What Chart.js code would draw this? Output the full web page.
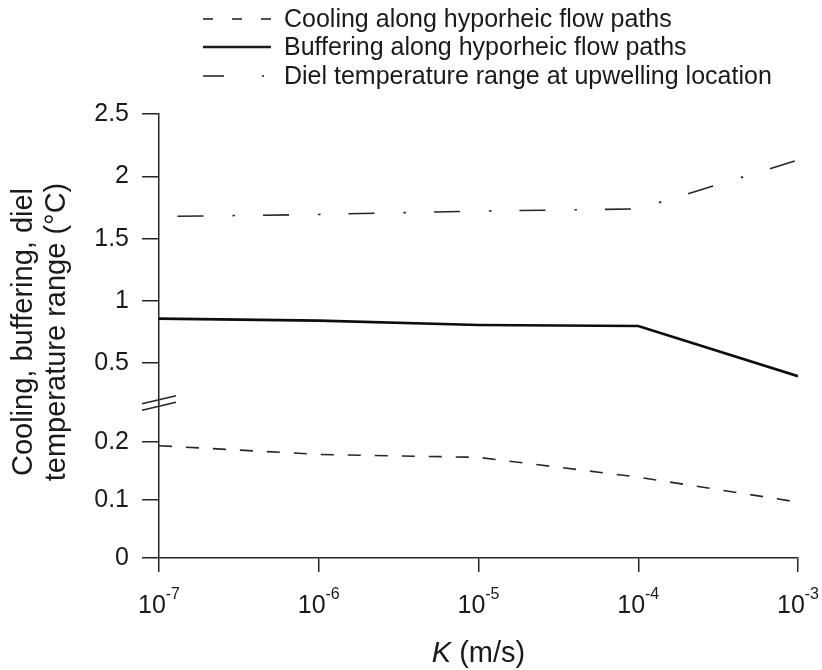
<!DOCTYPE html>
<html>
<head>
<meta charset="utf-8">
<script src="https://cdn.jsdelivr.net/npm/chart.js@4/dist/chart.umd.min.js"></script>
<style>
html,body{margin:0;padding:0;background:#ffffff;}
#wrap{width:822px;height:670px;}
</style>
</head>
<body>
<div id="wrap"><canvas id="c" width="822" height="670"></canvas></div>
<script>
// ---- data ----
const K = [1e-7, 1e-6, 1e-5, 1e-4, 1e-3];
const xTickExponents = ['-7', '-6', '-5', '-4', '-3'];
const cooling = [0.193, 0.178, 0.173, 0.139, 0.096];
const buffering = [0.858, 0.842, 0.807, 0.799, 0.396];
const diel = [1.677, 1.694, 1.721, 1.738, 2.13];
const lowerTicks = [0, 0.1, 0.2];
const upperTicks = [0.5, 1, 1.5, 2, 2.5];
const seriesLabels = [
  'Cooling along hyporheic flow paths',
  'Buffering along hyporheic flow paths',
  'Diel temperature range at upwelling location'
];
const yTitleLines = ['Cooling, buffering, diel', 'temperature range (\u00B0C)'];
const xTitleItalic = 'K';
const xTitleRest = ' (m/s)';

// ---- styling ----
const FONT = '"Liberation Sans", Arial, Helvetica, sans-serif';
const INK = '#1a1a1a';
const AXIS = '#262626';

const toPoints = arr => K.map((k, i) => ({x: k, y: arr[i]}));

const decor = {
  id: 'decor',
  afterDraw(chart) {
    const ctx = chart.ctx;
    const area = chart.chartArea;
    ctx.save();
    ctx.fillStyle = INK;
    ctx.strokeStyle = INK;

    // legend
    const lx0 = 203, lx1 = 271, tx = 284;
    const rows = [19, 47, 76];
    const styles = [
      {dash: [10, 19], w: 1.6},
      {dash: [], w: 2.6},
      {dash: [21, 38, 2, 30], w: 1.6}
    ];
    ctx.font = '25px ' + FONT;
    ctx.textAlign = 'left';
    ctx.textBaseline = 'middle';
    rows.forEach((y, i) => {
      ctx.beginPath();
      ctx.setLineDash(styles[i].dash);
      ctx.lineWidth = styles[i].w;
      ctx.moveTo(lx0, y);
      ctx.lineTo(lx1, y);
      ctx.stroke();
      ctx.setLineDash([]);
      ctx.fillText(seriesLabels[i], tx, y + 1);
    });

    // y title (two rotated lines)
    ctx.font = '29px ' + FONT;
    ctx.textAlign = 'center';
    ctx.textBaseline = 'middle';
    const titleX = [24, 57];
    yTitleLines.forEach((t, i) => {
      ctx.save();
      ctx.translate(titleX[i], 332);
      ctx.rotate(-Math.PI / 2);
      ctx.fillText(t, 0, 0);
      ctx.restore();
    });

    // x tick labels with superscript exponents
    const xs = chart.scales.x;
    ctx.textAlign = 'left';
    ctx.textBaseline = 'alphabetic';
    K.forEach((k, i) => {
      const px = xs.getPixelForValue(k);
      ctx.font = '25px ' + FONT;
      const wBase = ctx.measureText('10').width;
      ctx.font = '16px ' + FONT;
      const wSup = ctx.measureText(xTickExponents[i]).width;
      const start = px - (wBase + wSup) / 2;
      ctx.font = '25px ' + FONT;
      ctx.fillText('10', start, 613);
      ctx.font = '16px ' + FONT;
      ctx.fillText(xTickExponents[i], start + wBase, 599);
    });

    // x title
    ctx.font = 'italic 29px ' + FONT;
    const wK = ctx.measureText(xTitleItalic).width;
    ctx.font = '29px ' + FONT;
    const wR = ctx.measureText(xTitleRest).width;
    const cx = (area.left + area.right) / 2;
    const sx = cx - (wK + wR) / 2;
    ctx.textBaseline = 'alphabetic';
    ctx.font = 'italic 29px ' + FONT;
    ctx.fillText(xTitleItalic, sx, 662);
    ctx.font = '29px ' + FONT;
    ctx.fillText(xTitleRest, sx + wK, 662);

    // axis break marks
    const yb = chart.scales.yLow.top;
    const ax = area.left;
    ctx.strokeStyle = AXIS;
    ctx.lineWidth = 1.5;
    [-3.2, 3.2].forEach(off => {
      ctx.beginPath();
      ctx.moveTo(ax - 17, yb + off + 4);
      ctx.lineTo(ax + 17, yb + off - 4);
      ctx.stroke();
    });
    ctx.restore();
  }
};

new Chart(document.getElementById('c').getContext('2d'), {
  type: 'line',
  data: {
    datasets: [
      {
        label: seriesLabels[0],
        data: toPoints(cooling),
        yAxisID: 'yLow',
        borderColor: '#262626',
        borderWidth: 1.6,
        borderDash: [13, 14],
        pointRadius: 0,
        tension: 0,
        fill: false
      },
      {
        label: seriesLabels[1],
        data: toPoints(buffering),
        yAxisID: 'yHigh',
        borderColor: '#0d0d0d',
        borderWidth: 2.7,
        pointRadius: 0,
        tension: 0,
        fill: false
      },
      {
        label: seriesLabels[2],
        data: toPoints(diel),
        yAxisID: 'yHigh',
        borderColor: '#262626',
        borderWidth: 1.6,
        borderDash: [26, 29, 2.5, 28],
        borderDashOffset: 67,
        pointRadius: 0,
        tension: 0,
        fill: false
      }
    ]
  },
  options: {
    responsive: false,
    animation: false,
    devicePixelRatio: 1,
    layout: {padding: {top: 114, right: 24, left: 0, bottom: 0}},
    plugins: {legend: {display: false}, tooltip: {enabled: false}, title: {display: false}},
    scales: {
      x: {
        type: 'logarithmic',
        min: 1e-7,
        max: 1e-3,
        afterBuildTicks(s) { s.ticks = K.map(v => ({value: v})); },
        ticks: {display: false},
        grid: {drawOnChartArea: false, drawTicks: true, tickLength: 14, color: AXIS, tickColor: AXIS, lineWidth: 1.5},
        border: {display: true, color: AXIS, width: 1.5},
        afterFit(s) { s.height = 112; }
      },
      yLow: {
        type: 'linear',
        position: 'left',
        stack: 'ybroken',
        stackWeight: 155,
        min: 0,
        max: 0.2664,
        afterBuildTicks(s) { s.ticks = lowerTicks.map(v => ({value: v})); },
        ticks: {font: {family: FONT, size: 25}, color: INK, padding: 13, callback: v => String(v)},
        grid: {drawOnChartArea: false, drawTicks: true, tickLength: 17, color: AXIS, tickColor: AXIS, lineWidth: 1.5},
        border: {display: true, color: AXIS, width: 1.5},
        afterFit(s) { s.width = 159; }
      },
      yHigh: {
        type: 'linear',
        position: 'left',
        stack: 'ybroken',
        stackWeight: 289,
        min: 0.181,
        max: 2.5,
        afterBuildTicks(s) { s.ticks = upperTicks.map(v => ({value: v})); },
        ticks: {font: {family: FONT, size: 25}, color: INK, padding: 13, callback: v => String(v)},
        grid: {drawOnChartArea: false, drawTicks: true, tickLength: 17, color: AXIS, tickColor: AXIS, lineWidth: 1.5},
        border: {display: true, color: AXIS, width: 1.5},
        afterFit(s) { s.width = 159; }
      }
    }
  },
  plugins: [decor]
});
</script>
</body>
</html>
